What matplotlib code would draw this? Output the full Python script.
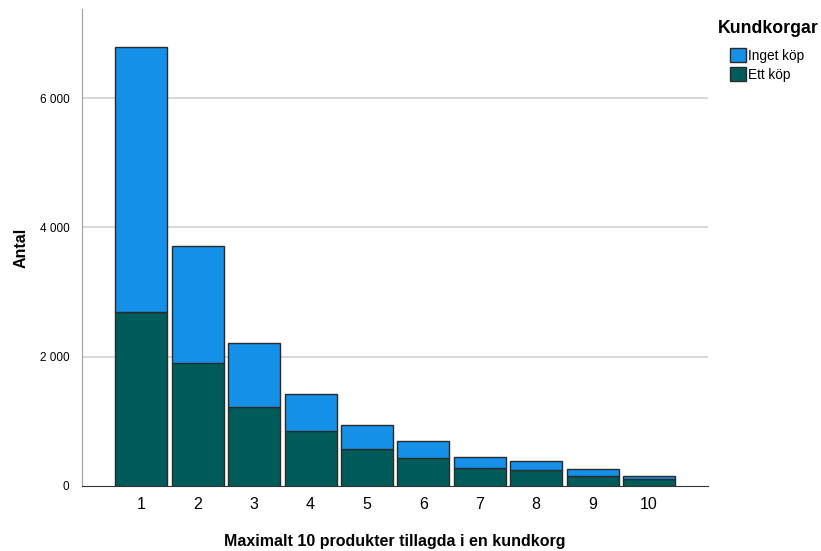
import numpy as np
import matplotlib.pyplot as plt
from matplotlib.patches import Patch

plt.rcParams['font.family'] = ['Liberation Sans', 'DejaVu Sans']

antal_produkter = [1, 2, 3, 4, 5, 6, 7, 8, 9, 10]
totalt = [6790, 3710, 2205, 1420, 940, 700, 455, 387, 258, 161]
ett_kop = [2695, 1905, 1216, 845, 575, 433, 285, 247, 155, 114]
inget_kop = [t - e for t, e in zip(totalt, ett_kop)]

BLUE = '#1490e8'
TEAL = '#005c5a'
EDGE = '#2b2b2b'

fig = plt.figure(figsize=(8.21, 5.51), dpi=100)
ax = fig.add_axes([0.1, 0.118, 0.762, 0.866])

ax.bar(antal_produkter, ett_kop, width=0.92, color=TEAL, edgecolor=EDGE, linewidth=1, zorder=3)
ax.bar(antal_produkter, inget_kop, bottom=ett_kop, width=0.92, color=BLUE,
       edgecolor=EDGE, linewidth=1, zorder=3)

ax.set_xlim(-0.05, 11.04)
ax.set_ylim(0, 7380)
ax.set_yticks([0, 2000, 4000, 6000])
ax.set_yticklabels(['0', '2 000', '4 000', '6 000'], fontsize=8.5)
ax.set_xticks(antal_produkter)
ax.set_xticklabels([str(x) for x in antal_produkter], fontsize=11.5)
ax.tick_params(length=0)
ax.tick_params(axis='x', pad=8)
ax.tick_params(axis='y', pad=9)

for v in [2000, 4000, 6000]:
    ax.axhline(v, color='#d4d4d4', linewidth=1.3, zorder=1)

for s in ['top', 'right']:
    ax.spines[s].set_visible(False)
ax.spines['left'].set_color('#a0a0a0')
ax.spines['bottom'].set_color('#333333')

ax.set_xlabel('Maximalt 10 produkter tillagda i en kundkorg', fontsize=11.5,
              fontweight='bold', labelpad=16)
ax.set_ylabel('Antal', fontsize=11.5, fontweight='bold', labelpad=8)

fig.text(0.874, 0.949, 'Kundkorgar', fontsize=12.8, fontweight='bold', va='center')
handles = [Patch(facecolor=BLUE, edgecolor=EDGE, label='Inget köp'),
           Patch(facecolor=TEAL, edgecolor=EDGE, label='Ett köp')]
fig.legend(handles=handles, loc='upper left', bbox_to_anchor=(0.889, 0.913),
           frameon=False, fontsize=9.8, handlelength=1.15, handleheight=1.2,
           handletextpad=0.2, labelspacing=0.35, borderpad=0, borderaxespad=0)

fig.savefig('out.png', dpi=100)
